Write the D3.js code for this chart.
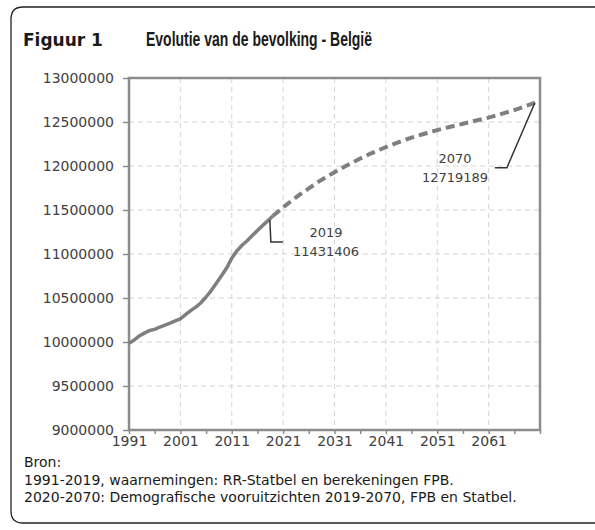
<!DOCTYPE html>
<html>
<head>
<meta charset="utf-8">
<script src="https://cdn.jsdelivr.net/npm/d3@7"></script>
<style>
	body { margin: 0; background: #fff; }
	svg text { font-family: "DejaVu Sans", sans-serif; fill: #404040; }
</style>
</head>
<body>
<svg></svg>
<script>
// observed population, 1 January
const obsYears = d3.range(1991, 2020);
const obsValues = [
	9986975, 10021997, 10068319, 10100631, 10130574, 10143047, 10170226, 10192264,
	10213752, 10239085, 10263414, 10309725, 10355844, 10396421, 10445852, 10511382,
	10584534, 10666866, 10753080, 10839905, 10951266, 11035948, 11099554, 11150516,
	11209044, 11267910, 11322088, 11376070, 11431406,
];
const projYears = d3.range(2019, 2071);
const projValues = [
	11431406, 11480000, 11530000, 11575000, 11620000, 11665000, 11705000, 11745000,
	11785000, 11825000, 11860000, 11895000, 11930000, 11962000, 11995000, 12025000,
	12055000, 12085000, 12112000, 12140000, 12165000, 12190000, 12215000, 12238000,
	12260000, 12282000, 12302000, 12322000, 12340000, 12358000, 12375000, 12392000,
	12408000, 12423000, 12438000, 12452000, 12466000, 12480000, 12494000, 12508000,
	12522000, 12536000, 12550000, 12566000, 12582000, 12600000, 12618000, 12636000,
	12656000, 12676000, 12697000, 12719189,
];
const xTickLabels = [1991, 2001, 2011, 2021, 2031, 2041, 2051, 2061];
const yTicks = [9000000, 9500000, 10000000, 10500000, 11000000, 11500000, 12000000, 12500000, 13000000];
const sourceLines = [
	"Bron:",
	"1991-2019, waarnemingen: RR-Statbel en berekeningen FPB.",
	"2020-2070: Demografische vooruitzichten 2019-2070, FPB en Statbel.",
];

const SVGsize = { w: 595, h: 530 };
const plot = { l: 129, t: 78, r: 540, b: 430 };

const svg = d3.select("svg").attr("width", SVGsize.w).attr("height", SVGsize.h);

// frame with rounded left corners, open to the right edge
const rad = 12;
svg.append("path")
	.attr("d", `M${SVGsize.w + 5},7 H${11 + rad} Q11,7 11,${7 + rad} V${523 - rad} Q11,523 ${11 + rad},523 H${SVGsize.w + 5}`)
	.attr("fill", "none")
	.attr("stroke", "#222")
	.attr("stroke-width", 1.3);

svg.append("text")
	.attr("x", 23).attr("y", 46)
	.attr("font-size", 17).attr("font-weight", "bold")
	.style("fill", "#1a1a1a")
	.text("Figuur 1");
svg.append("text")
	.attr("x", 146).attr("y", 46)
	.attr("font-size", 19.5).attr("font-weight", "bold")
	.attr("textLength", 226).attr("lengthAdjust", "spacingAndGlyphs")
	.style("font-family", "'Liberation Sans', sans-serif")
	.style("fill", "#1a1a1a")
	.text("Evolutie van de bevolking - België");

const scaleX = d3.scaleLinear().domain([1991, 2071]).range([plot.l, plot.r]);
const scaleY = d3.scaleLinear().domain([9000000, 13000000]).range([plot.b, plot.t]);

// grid
const grid = svg.append("g").attr("stroke", "#d4d4d4").attr("stroke-width", 1).attr("stroke-dasharray", "5,4");
grid.selectAll(".gy").data(yTicks.slice(1, -1)).join("line")
	.attr("x1", plot.l).attr("x2", plot.r)
	.attr("y1", (d) => scaleY(d)).attr("y2", (d) => scaleY(d));
grid.selectAll(".gx").data(xTickLabels.slice(1)).join("line")
	.attr("y1", plot.t).attr("y2", plot.b)
	.attr("x1", (d) => scaleX(d)).attr("x2", (d) => scaleX(d));

// axes
const axisY = d3.axisLeft(scaleY).tickValues(yTicks).tickSize(6).tickPadding(9).tickFormat((d) => d);
const axisYG = svg.append("g").attr("transform", `translate(${plot.l},0)`).call(axisY);
axisYG.select(".domain").remove();
axisYG.selectAll("line").attr("stroke", "#8c8c8c").attr("stroke-width", 1.5);
axisYG.selectAll("text").attr("font-size", 14).attr("font-family", null).style("fill", "#404040");

const axisX = d3.axisBottom(scaleX).tickValues(d3.range(1991, 2072, 5)).tickSize(4).tickPadding(2)
	.tickFormat((d) => (xTickLabels.includes(d) ? d : ""));
const axisXG = svg.append("g").attr("transform", `translate(0,${plot.b})`).call(axisX);
axisXG.select(".domain").remove();
axisXG.selectAll("line").attr("stroke", "#8c8c8c").attr("stroke-width", 1.5);
axisXG.selectAll("text").attr("font-size", 14).attr("font-family", null).style("fill", "#404040");

// plot frame
svg.append("rect")
	.attr("x", plot.l).attr("y", plot.t)
	.attr("width", plot.r - plot.l).attr("height", plot.b - plot.t)
	.attr("fill", "none").attr("stroke", "#8c8c8c").attr("stroke-width", 2.5);

const line = d3.line().x((d) => scaleX(d[0])).y((d) => scaleY(d[1]));

svg.append("path")
	.datum(d3.zip(projYears, projValues))
	.attr("d", line)
	.attr("fill", "none").attr("stroke", "#7f7f7f").attr("stroke-width", 4)
	.attr("stroke-dasharray", "9,5");

svg.append("path")
	.datum(d3.zip(obsYears, obsValues))
	.attr("d", line)
	.attr("fill", "none").attr("stroke", "#7f7f7f").attr("stroke-width", 3.5)
	.attr("stroke-linejoin", "round");

// data labels
function label(year, value, tx, ty, path) {
	svg.append("path").attr("d", path).attr("fill", "none").attr("stroke", "#333").attr("stroke-width", 1.5);
	const t = svg.append("text").attr("text-anchor", "middle").attr("font-size", 13);
	t.append("tspan").attr("x", tx).attr("y", ty).text(year);
	t.append("tspan").attr("x", tx).attr("y", ty + 19).text(value);
}
const x19 = scaleX(2019), y19 = scaleY(11431406);
label(2019, 11431406, 326, 237, `M${x19 - 3},${y19 + 4} L${x19 - 2},${y19 + 26} H${x19 + 10}`);
const x70 = scaleX(2070), y70 = scaleY(12719189);
label(2070, 12719189, 455, 163, `M${x70},${y70} L${x70 - 28},${y70 + 65} H${x70 - 40}`);

// source
svg.selectAll(".src").data(sourceLines).join("text")
	.attr("x", 24)
	.attr("y", (d, i) => 467 + i * 17.5)
	.attr("font-size", 14)
	.style("fill", "#1a1a1a")
	.text((d) => d);
</script>
</body>
</html>
